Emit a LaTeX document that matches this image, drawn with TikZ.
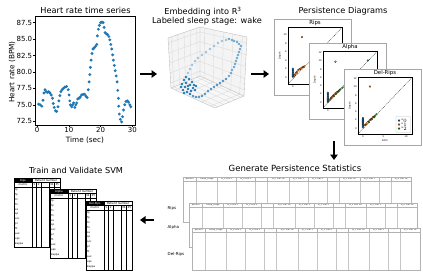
\documentclass[tikz,border=0pt]{standalone}
\usepackage{fontspec}
\setmainfont{DejaVu Sans}
\usetikzlibrary{arrows.meta,calc}
\definecolor{mblue}{HTML}{1F77B4}
\definecolor{morange}{HTML}{FF7F0E}
\definecolor{mgreen}{HTML}{2CA02C}
\newcommand\fsz[1]{\fontsize{#1}{#1}\selectfont}
\tikzset{
  bigarrow/.style={line width=2.4pt,-{Triangle[length=5.5pt,width=7.5pt]}},
  ttl/.style={font=\fsz{8.2},inner sep=0pt},
  tiny/.style={font=\fsz{2.4},inner sep=0pt},
  grid3d/.style={gray!32,line width=0.3pt},
}
% persistence diagram frame (inside a shifted scope)
\newcommand\pdframe[3]{%
  \fill[white] (0,0) rectangle (77,76);
  \draw[gray!70,line width=0.7pt] (0,0) rectangle (77,76);
  \node[font=\fsz{5.4},inner sep=0pt] (#2t) at (41,4.4) {#1};
  \draw[line width=0.3pt] (14,8.5) rectangle (68,65);
  \draw[line width=0.25pt,dash pattern=on 1pt off 0.8pt] (14,65) -- (68,8.5);
  \node[tiny,rotate=90] (#2d) at (6,37) {Depth};
  \node[tiny] (#2b) at (41,71.8) {Birth};
  \foreach \u/\l [count=\i] in {0.09/0,0.47/5,0.89/10}
    \node[tiny] (#2x\i) at ({14+54*\u},67.6) {\l};
  \foreach \v/\l [count=\i] in {#3}
    \node[tiny,anchor=east] (#2y\i) at (12.8,{65-56.5*\v}) {\l};
}
\newcommand\pdp[3]{\fill[#1,draw=black,line width=0.12pt] ({14+54*#2},{65-56.5*#3}) circle (1pt);}
% statistics table
\newcommand\stattab[4]{%
\begin{scope}[shift={(#1,#2)}]
  \fill[white] (0,0) rectangle (228.5,#3);
  \foreach \a/\b/\l [count=\i] in {0/13.5/patient,13.5/34.5/sleep\_stage,34.5/53.5/H\_0 stat 1,53.5/72.5/H\_0 stat 2,72.5/84.5/{.\,\,.\,\,.\,\,.},84.5/106/H\_0 stat 16,106/125/H\_1 stat 1,125/144/H\_1 stat 2,144/156/{.\,\,.\,\,.\,\,.},156/177/H\_1 stat 16,177/196/H\_2 stat 1,196/208/{.\,\,.\,\,.\,\,.},208/228.5/H\_2 stat 16}{
    \draw[gray!60,line width=0.35pt] (\a,0) rectangle (\b,4);
    \node[font=\fsz{2.2},inner sep=0pt,text=black!85] (#4c\i) at ({(\a+\b)/2},2) {\l};
    \draw[gray!45,line width=0.35pt] (\b,4) -- (\b,#3);
  }
  \draw[gray!60,line width=0.45pt] (0,0) rectangle (228.5,#3);
\end{scope}}
% SVM table
\newcommand\svmtab[4]{%
\begin{scope}[shift={(#1,#2)}]
  \fill[white] (0,0) rectangle (46,69);
  \fill[black] (0,0) rectangle (18,4.5);
  \node[font=\fsz{2.7},text=white,inner sep=0pt] (#4t) at (9,2.3) {#3};
  \node[font=\fsz{2.9},inner sep=0pt] (#4p) at (32,2.3) {Patient number};
  \node[font=\fsz{2.7},inner sep=0pt] (#4m) at (9,6.8) {metric};
  \foreach \c/\l [count=\i] in {20.25/1,24.75/2,31/{.\,.\,.},37.75/34,43.25/35}
    \node[font=\fsz{2.7},inner sep=0pt] (#4n\i) at (\c,6.8) {\l};
  \foreach \l [count=\i] in {tp,fp,tn,fn,se,sp,acc,pr,f1,auc,aps,kappa}
    \node[font=\fsz{2.6},anchor=west,inner sep=0pt] (#4r\i) at (1,{9+4.9*\i-2.2}) {\l};
  \draw[line width=0.35pt] (0,4.5) -- (46,4.5) (0,9) -- (46,9);
  \foreach \c in {22.5,27,35,40.5} \draw[line width=0.35pt] (\c,4.5) -- (\c,69);
  \draw[line width=0.35pt] (18,0) -- (18,69);
  \draw[line width=0.6pt] (0,0) rectangle (46,69);
\end{scope}}

\begin{document}
\begin{tikzpicture}[x=1pt,y=-1pt]
\useasboundingbox (0,0) rectangle (423,274);
\fill[white] (0,0) rectangle (423,274);

% ---------------- Heart rate plot ----------------
\node[ttl] (hrtitle) at (85.5,10.5) {Heart rate time series};
\draw[line width=0.5pt] (35,16) rectangle (135,125);
\foreach \v/\l [count=\i] in {72.5/72.5,75/75.0,77.5/77.5,80/80.0,82.5/82.5,85/85.0,87.5/87.5}
  \draw[line width=0.5pt] (35,{22.7+(87.5-\v)*6.57}) -- ++(-2,0)
    node[anchor=east,inner sep=0.6pt,font=\fsz{7}] (hry\i) {\l};
\foreach \t [count=\i] in {0,10,20,30}
  \draw[line width=0.5pt] ({37+3.18*\t},125) -- ++(0,1.8)
    node[anchor=north,inner sep=0.4pt,font=\fsz{7}] (hrx\i) {\t};
\node[font=\fsz{7.3},rotate=90,inner sep=0pt] (hrylab) at (12,72) {Heart rate (BPM)};
\node[font=\fsz{7.3},inner sep=0pt] (hrxlab) at (85,140.5) {Time (sec)};
\foreach \t/\v in {0.5/75.1,1.0/75.0,1.5/74.8,1.9/75.7,2.2/76.8,2.5/77.3,2.9/77.0,3.3/76.9,3.7/77.0,4.1/76.8,4.5/76.5,4.9/76.0,5.1/75.2,5.4/74.6,5.8/74.1,6.2/74.0,6.6/74.7,6.9/75.6,7.2/76.4,7.5/77.0,7.9/77.3,8.3/77.5,8.8/77.7,9.3/77.8,9.8/77.3,10.1/76.5,10.3/75.6,10.5/75.0,10.9/74.7,11.2/75.0,11.5/75.3,11.9/74.6,12.2/75.0,12.5/75.3,12.8/75.9,13.2/76.0,13.6/76.2,14.0/76.5,14.5/76.6,15.0/76.6,15.4/76.3,15.8/76.1,16.1/77.3,16.4/78.5,16.6/79.6,16.8/80.7,17.0/81.8,17.3/82.8,17.6/83.5,18.0/83.7,18.4/83.9,18.8/84.2,19.0/85.5,19.3/86.5,19.6/87.1,20.0/87.5,20.4/87.6,20.8/87.5,21.1/86.8,21.4/86.0,21.8/85.8,22.2/85.7,22.6/85.4,22.9/84.9,23.2/84.2,23.5/83.5,23.8/82.6,24.0/81.8,24.3/81.0,24.6/80.2,24.9/79.4,25.2/78.5,25.4/77.2,25.6/76.0,25.7/74.8,25.9/73.6,26.2/72.8,26.6/72.4,26.9/73.2,27.2/74.2,27.6/75.0,28.0/75.5,28.4/75.6,28.8/75.4,29.2/75.0,29.5/74.7}
  \fill[mblue] ({37+3.18*\t},{22.7+(87.5-\v)*6.57}) circle (1.6pt);

% ---------------- 3D embedding ----------------
\node[ttl] (embt1) at (203,12) {Embedding into R\textsuperscript{3}};
\node[ttl] (embt2) at (207,21) {Labeled sleep stage: wake};
\coordinate (A) at (168,38);
\coordinate (B) at (200,27);
\coordinate (C) at (247,37);
\coordinate (Ap) at (171,88);
\coordinate (Bp) at (200,76);
\coordinate (Cp) at (244,96);
\coordinate (F) at (215,108);
\fill[gray!9] (Ap) -- (A) -- (B) -- (Bp) -- cycle;
\fill[gray!9] (Bp) -- (B) -- (C) -- (Cp) -- cycle;
\fill[gray!6] (Ap) -- (Bp) -- (Cp) -- (F) -- cycle;
\foreach \s in {0.1,0.3,0.5,0.7,0.9}{
  \draw[grid3d] ($(Ap)!\s!(Bp)$) -- ($(A)!\s!(B)$);
  \draw[grid3d] ($(Ap)!\s!(A)$) -- ($(Bp)!\s!(B)$);
  \draw[grid3d] ($(Bp)!\s!(Cp)$) -- ($(B)!\s!(C)$);
  \draw[grid3d] ($(Bp)!\s!(B)$) -- ($(Cp)!\s!(C)$);
  \draw[grid3d] ($(Ap)!\s!(Bp)$) -- ($(F)!\s!(Cp)$);
  \draw[grid3d] ($(Ap)!\s!(F)$) -- ($(Bp)!\s!(Cp)$);
}
\draw[gray!55,line width=0.35pt] (A) -- (B) -- (C) -- (Cp) -- (F) -- (Ap) -- cycle;
\draw[gray!55,line width=0.35pt] (B) -- (Bp) -- (Ap) (Bp) -- (Cp);
\foreach \p in {(188,73),(190,69),(192,65),(195,61),(198,58),(202,55),(206,52),(210,49),(214,46),(218,43),(222,41),(226,40)}
  \fill[mblue!45] \p circle (1.45pt);
\foreach \p in {(229,39),(232,40),(234,41),(237,42),(239,44),(241,46),(240,49),(239,52),(238,55),(237,58),(236,61),(235,64),(234,67),(232,70),(231,73),(229,76)}
  \fill[mblue!65] \p circle (1.45pt);
\foreach \p in {(226,79),(223,81),(220,83),(217,85),(214,87),(211,89),(208,91),(205,94),(202,96),(199,97),(196,97),(193,96)}
  \fill[mblue!80] \p circle (1.45pt);
\foreach \p in {(184,80),(186,83),(185,87),(188,89),(190,85),(192,82),(189,79),(187,92),(191,91),(193,88),(183,90),(194,85),(186,77),(190,94),(182,84),(188,86),(195,90),(184,93),(196,86),(181,87)}
  \fill[mblue] \p circle (1.45pt);

% ---------------- Persistence diagrams ----------------
\node[ttl] (pdtitle) at (343,11.5) {Persistence Diagrams};
\begin{scope}[shift={(274,19)}]
  \pdframe{Rips}{pr}{0.12/0,0.27/2,0.42/4,0.57/6,0.72/8,0.87/10}
  \foreach \v in {0.13,0.15,0.17,0.19,0.21,0.23,0.25,0.27} \pdp{mblue}{0.09}{\v};
  \foreach \u/\v in {0.12/0.15,0.13/0.17,0.15/0.2,0.16/0.19,0.17/0.22,0.19/0.25,0.21/0.26,0.23/0.27,0.26/0.29,0.28/0.3,0.3/0.31} \pdp{morange}{\u}{\v};
  \pdp{morange}{0.26}{0.83}
\end{scope}
\begin{scope}[shift={(309,43)}]
  \pdframe{Alpha}{pa}{0.1/0,0.246/2,0.392/4,0.538/6,0.684/8,0.83/10,0.976/12}
  \foreach \v in {0.11,0.13,0.15,0.17,0.19,0.21,0.23,0.25,0.27} \pdp{mblue}{0.09}{\v};
  \foreach \u/\v in {0.12/0.14,0.14/0.16,0.15/0.18,0.17/0.2,0.18/0.21,0.2/0.23,0.23/0.26,0.26/0.28} \pdp{morange}{\u}{\v};
  \pdp{morange}{0.23}{0.82}
  \foreach \u/\v in {0.2/0.21,0.24/0.25,0.28/0.29,0.3/0.31,0.32/0.33,0.36/0.36,0.4/0.4,0.83/0.84} \pdp{mgreen}{\u}{\v};
\end{scope}
\begin{scope}[shift={(344,69)}]
  \pdframe{Del-Rips}{pd}{0.1/0,0.246/2,0.392/4,0.538/6,0.684/8,0.83/10,0.976/12}
  \foreach \v in {0.12,0.14,0.16,0.18,0.2,0.22,0.24,0.26,0.28} \pdp{mblue}{0.09}{\v};
  \foreach \u/\v in {0.13/0.16,0.15/0.17,0.16/0.19,0.19/0.22,0.22/0.25,0.25/0.27,0.28/0.3,0.31/0.32} \pdp{morange}{\u}{\v};
  \pdp{morange}{0.22}{0.84}
  \foreach \u/\v in {0.2/0.21,0.25/0.26,0.3/0.3,0.34/0.35} \pdp{mgreen}{\u}{\v};
  \draw[gray!50,fill=white,line width=0.25pt,rounded corners=0.5pt] (52,47.5) rectangle (66.5,63.5);
  \foreach \c/\l/\yy [count=\i] in {mblue/0/51.5,morange/1/55.5,mgreen/2/59.5}{
    \fill[\c,draw=black,line width=0.12pt] (55,\yy) circle (1pt);
    \node[font=\fsz{2.2},anchor=west,inner sep=0pt] (pdl\i) at (57.5,\yy) {H$_{\l}$};
  }
\end{scope}

% ---------------- Statistics tables ----------------
\node[font=\fsz{8.5},inner sep=0pt] (gstitle) at (295,168) {Generate Persistence Statistics};
\stattab{183}{177}{45}{ta}
\stattab{189}{203}{44}{tb}
\stattab{192}{228}{42}{tc}
\node[font=\fsz{4},anchor=west,inner sep=0pt] (lrips) at (167.5,208) {Rips};
\node[font=\fsz{4},anchor=west,inner sep=0pt] (lalpha) at (167.5,227.5) {Alpha};
\node[font=\fsz{4},anchor=west,inner sep=0pt] (ldel) at (167.5,254) {Del-Rips};

% ---------------- SVM ----------------
\node[ttl] (svmtitle) at (76,170) {Train and Validate SVM};
\svmtab{14}{178}{Rips}{sa}
\svmtab{50}{189}{Alpha}{sb}
\svmtab{86}{201}{Del-Rips}{sc}

% ---------------- Arrows ----------------
\coordinate (a1s) at (140,74); \coordinate (a1e) at (157,74);
\coordinate (a2s) at (251,74); \coordinate (a2e) at (269,74);
\coordinate (a3s) at (334,141); \coordinate (a3e) at (334,160);
\coordinate (a4s) at (154,220); \coordinate (a4e) at (140,220);
\draw[bigarrow] (a1s) -- (a1e);
\draw[bigarrow] (a2s) -- (a2e);
\draw[bigarrow] (a3s) -- (a3e);
\draw[bigarrow] (a4s) -- (a4e);
\end{tikzpicture}
\end{document}
